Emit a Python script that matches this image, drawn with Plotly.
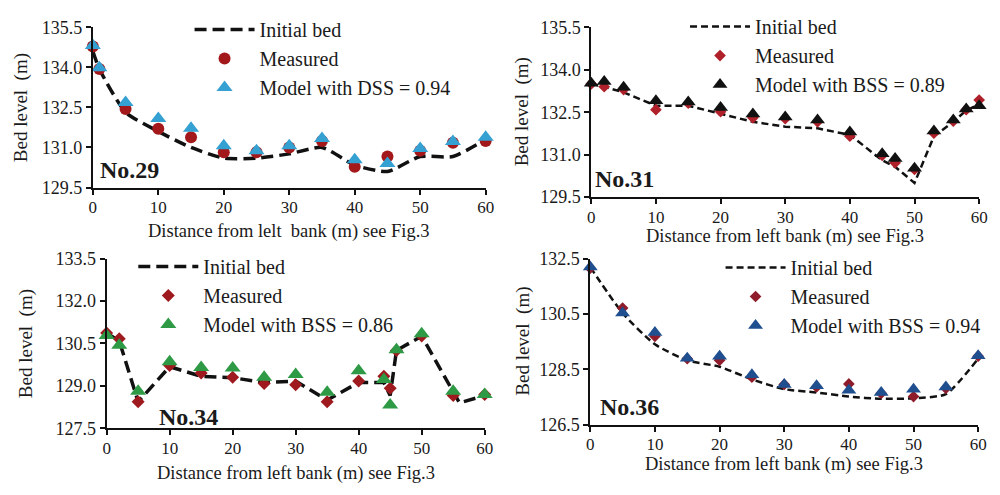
import plotly.graph_objects as go

# ---------------- data ----------------
x29 = [0, 1, 5, 10, 15, 20, 25, 30, 35, 40, 45, 50, 55, 60]
bed29 = [134.6, 133.94, 132.32, 131.6, 131.0, 130.6, 130.6, 130.76, 131.0, 130.34, 130.1, 130.66, 130.66, 131.3]
meas29 = [134.78, 133.94, 132.44, 131.7, 131.38, 130.82, 130.82, 131.0, 131.24, 130.28, 130.66, 130.88, 131.18, 131.24]
model29 = [134.82, 133.98, 132.68, 132.08, 131.72, 131.06, 130.88, 131.06, 131.34, 130.54, 130.4, 130.96, 131.22, 131.38]

x31 = [0, 2, 5, 10, 15, 20, 25, 30, 35, 40, 45, 47, 50, 53, 56, 58, 60]
bed31 = [133.5, 133.4, 133.2, 132.73, 132.73, 132.44, 132.16, 131.99, 131.93, 131.7, 130.8, 130.57, 130.0, 131.65, 132.16, 132.56, 132.78]
meas31 = [133.5, 133.4, 133.3, 132.59, 132.82, 132.52, 132.3, 132.27, 132.16, 131.65, 130.97, 130.71, 130.48, 131.76, 132.18, 132.59, 132.93]
model31 = [133.52, 133.58, 133.38, 132.9, 132.86, 132.67, 132.44, 132.33, 132.22, 131.8, 131.03, 130.86, 130.52, 131.84, 132.22, 132.61, 132.73]

x34_bed = [0, 2, 5, 10, 15, 20, 25, 30, 35, 40, 44, 45, 46, 50, 56, 60]
bed34 = [130.87, 130.59, 128.44, 129.68, 129.34, 129.29, 129.12, 129.17, 128.5, 129.12, 129.12, 128.66, 130.25, 130.76, 128.4, 128.66]
x34 = [0, 2, 5, 10, 15, 20, 25, 30, 35, 40, 44, 45, 46, 50, 55, 60]
meas34 = [130.87, 130.67, 128.44, 129.72, 129.46, 129.31, 129.09, 129.04, 128.44, 129.17, 129.34, 128.92, 130.25, 130.76, 128.66, 128.7]
model34 = [130.78, 130.44, 128.81, 129.85, 129.65, 129.63, 129.31, 129.4, 128.78, 129.54, 129.23, 128.33, 130.28, 130.84, 128.81, 128.7]

x36 = [0, 5, 10, 15, 20, 25, 30, 35, 40, 45, 50, 55, 60]
bed36 = [132.19, 130.53, 129.40, 128.82, 128.59, 128.13, 127.78, 127.66, 127.51, 127.43, 127.45, 127.6, 128.88]
meas36 = [132.15, 130.71, 129.69, 128.88, 128.82, 128.21, 127.95, 127.86, 127.97, 127.63, 127.51, 127.81, 128.97]
model36 = [132.19, 130.53, 129.83, 128.9, 128.97, 128.3, 127.95, 127.9, 127.74, 127.66, 127.78, 127.86, 128.99]

labels = ["No.29", "No.31", "No.34", "No.36"]
model_names = ["Model with DSS = 0.94", "Model with BSS = 0.89",
               "Model with BSS = 0.86", "Model with BSS = 0.94"]
x_titles = ["Distance from lelt  bank (m) see Fig.3", "Distance from left bank (m) see Fig.3",
            "Distance from left bank (m) see Fig.3", "Distance from left bank (m) see Fig.3"]
y_ranges = [(129.5, 135.5, 1.5), (129.5, 135.5, 1.5), (127.5, 133.5, 1.5), (126.5, 132.5, 2.0)]

FONT = "Liberation Serif, Times New Roman, serif"
W, H = 1000, 495

def px_x(a, b):
    return [a / W, b / W]

def px_y(top, bottom):
    return [1 - bottom / H, 1 - top / H]

panels = [
    dict(xd=px_x(90, 488), yd=px_y(18, 185),
         bx=x29, bed=bed29, mx=x29, meas=meas29, model=model29,
         shape="spline", lw=3.5, dash="12px,6px",
         mcol="#A3191B", msym="circle", msize=12, tcol="#35A0D2", tsize=14,
         leg=(188, 0), lab=(95, 167), xtit=231, ytit=18),
    dict(xd=px_x(595, 988), yd=px_y(18, 195),
         bx=x31, bed=bed31, mx=x31, meas=meas31, model=model31,
         shape="linear", lw=2.5, dash="7px,4px",
         mcol="#B0202A", msym="diamond", msize=9, tcol="#111111", tsize=13,
         leg=(690, -3), lab=(597, 176), xtit=236, ytit=525),
    dict(xd=px_x(104, 487), yd=px_y(259, 436),
         bx=x34_bed, bed=bed34, mx=x34, meas=meas34, model=model34,
         shape="linear", lw=3.5, dash="12px,6px",
         mcol="#9E1A1E", msym="diamond", msize=10, tcol="#2E9A45", tsize=14,
         leg=(131, 247), lab=(155, 424), xtit=483, ytit=23),
    dict(xd=px_x(594, 987), yd=px_y(259, 432),
         bx=x36, bed=bed36, mx=x36, meas=meas36, model=model36,
         shape="spline", lw=2.5, dash="7px,4px",
         mcol="#8E1C2A", msym="diamond", msize=9, tcol="#1F4F8F", tsize=13,
         leg=(726, 248), lab=(602, 414), xtit=474, ytit=525),
]

fig = go.Figure()
layout = dict(width=W, height=H, margin=dict(l=0, r=0, t=0, b=0),
              paper_bgcolor="white", plot_bgcolor="white",
              font=dict(family=FONT, color="#1a1a1a", size=18),
              annotations=[])

for i, p in enumerate(panels):
    n = "" if i == 0 else str(i + 1)
    xa, ya = "x" + n, "y" + n
    legname = "legend" if i == 0 else "legend" + str(i + 1)
    fig.add_trace(go.Scatter(x=p["bx"], y=p["bed"], mode="lines", name="Initial bed",
                             line=dict(color="#111111", width=p["lw"], dash=p["dash"],
                                       shape=p["shape"], smoothing=0.6),
                             xaxis=xa, yaxis=ya, legend=legname, cliponaxis=False))
    fig.add_trace(go.Scatter(x=p["mx"], y=p["meas"], mode="markers", name="Measured",
                             marker=dict(color=p["mcol"], symbol=p["msym"], size=p["msize"],
                                         line=dict(width=0)),
                             xaxis=xa, yaxis=ya, legend=legname, cliponaxis=False))
    fig.add_trace(go.Scatter(x=p["mx"], y=p["model"], mode="markers", name=model_names[i],
                             marker=dict(color=p["tcol"], symbol="triangle-up", size=p["tsize"],
                                         line=dict(width=0)),
                             xaxis=xa, yaxis=ya, legend=legname, cliponaxis=False))
    y0, y1, dy = y_ranges[i]
    layout["xaxis" + n] = dict(domain=p["xd"], range=[0, 60], dtick=10, tick0=0,
                               anchor=ya, showline=True, linecolor="#111111", linewidth=2,
                               ticks="outside", ticklen=5, tickwidth=2, tickcolor="#111111",
                               showgrid=False, zeroline=False, ticklabelstandoff=-2,
                               tickfont=dict(size=17, family=FONT))
    layout["yaxis" + n] = dict(domain=p["yd"], range=[y0, y1], dtick=dy, tick0=y0,
                               tickformat=".1f",
                               anchor=xa, showline=True, linecolor="#111111", linewidth=2,
                               ticks="outside", ticklen=5, tickwidth=2, tickcolor="#111111",
                               showgrid=False, zeroline=False,
                               tickfont=dict(size=18, family=FONT))
    # axis titles as annotations for precise placement
    layout["annotations"].append(dict(text="Bed level  (m)", xref="paper", yref="paper",
                                      x=p["ytit"] / W, y=(p["yd"][0] + p["yd"][1]) / 2,
                                      textangle=-90, showarrow=False,
                                      xanchor="center", yanchor="middle",
                                      font=dict(size=19, family=FONT)))
    layout["annotations"].append(dict(text=x_titles[i], xref="paper", yref="paper",
                                      x=(p["xd"][0] + p["xd"][1]) / 2, y=1 - p["xtit"] / H,
                                      showarrow=False, xanchor="center", yanchor="middle",
                                      font=dict(size=18.5, family=FONT)))
    layout["annotations"].append(dict(text="<b>" + labels[i] + "</b>", xref="paper", yref="paper",
                                      x=p["lab"][0] / W, y=1 - p["lab"][1] / H,
                                      showarrow=False, xanchor="left", yanchor="middle",
                                      font=dict(size=24, family=FONT, color="#1a1a1a")))
    layout[legname] = dict(x=p["leg"][0] / W, y=1 - p["leg"][1] / H,
                           xanchor="left", yanchor="top", bgcolor="rgba(0,0,0,0)",
                           font=dict(size=20, family=FONT), itemwidth=60,
                           tracegroupgap=0)

fig.update_layout(**layout)
fig.write_html("out.html")
